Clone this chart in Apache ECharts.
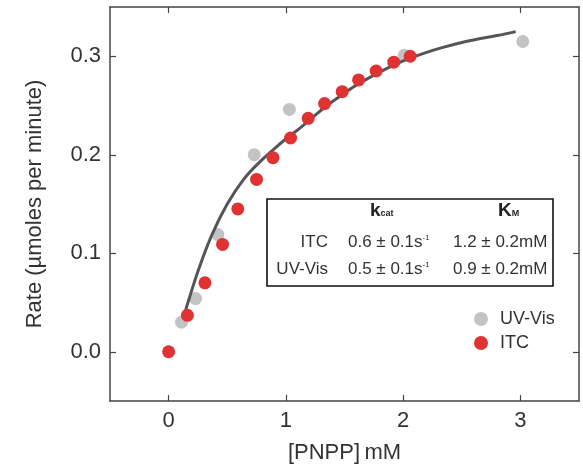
<!DOCTYPE html>
<html>
<head>
<meta charset="utf-8">
<script src="https://cdn.jsdelivr.net/npm/echarts@6/dist/echarts.min.js"></script>
<style>html,body{margin:0;padding:0;background:#fff}#c{width:583px;height:469px}</style>
</head>
<body>
<div id="c"></div>
<script>
// ---- data ----
const itcX = [0, 0.16, 0.31, 0.46, 0.59, 0.75, 0.89, 1.04, 1.19, 1.33, 1.48, 1.62, 1.77, 1.92, 2.06];
const itcY = [0, 0.037, 0.070, 0.109, 0.145, 0.175, 0.197, 0.217, 0.237, 0.252, 0.264, 0.276, 0.285, 0.294, 0.300];
const uvX = [0.11, 0.23, 0.42, 0.73, 1.03, 2.01, 3.02];
const uvY = [0.030, 0.054, 0.119, 0.200, 0.246, 0.301, 0.315];
const fitX = [0.145, 0.17, 0.26, 0.37, 0.5, 0.64, 0.78, 0.9, 1.01, 1.12, 1.2, 1.34, 1.48, 1.62, 1.77, 1.92, 2.06, 2.2, 2.34, 2.5, 2.62, 2.8, 2.96];
const fitY = [0.042, 0.052, 0.085, 0.119, 0.150, 0.175, 0.193, 0.206, 0.217, 0.227, 0.235, 0.249, 0.261, 0.272, 0.282, 0.291, 0.298, 0.304, 0.309, 0.314, 0.317, 0.321, 0.325];
const xTicks = [0, 1, 2, 3];
const yTicks = [0, 0.1, 0.2, 0.3];
const seriesNames = ['UV-Vis', 'ITC'];
const tableRows = ['ITC', 'UV-Vis'];
const kcatVals = ['0.6 ± 0.1s', '0.5 ± 0.1s'];
const kmVals = ['1.2 ± 0.2mM', '0.9 ± 0.2mM'];

const zip = (a, b) => a.map((v, i) => [v, b[i]]);
const FONT = '"Liberation Sans", Arial, Helvetica, sans-serif';
const AX = '#444';

const chart = echarts.init(document.getElementById('c'), null, {renderer: 'canvas'});

function xAx(pos, show) {
  return {
    type: 'value', position: pos, min: -0.5, max: 3.5,
    axisLine: {show: true, onZero: false, lineStyle: {color: AX, width: 1.5}},
    axisTick: {show: true, inside: true, length: 6, customValues: xTicks, lineStyle: {color: AX, width: 1.2}},
    axisLabel: {show: show, customValues: xTicks, margin: 9, color: '#333', fontSize: 22, fontFamily: FONT},
    splitLine: {show: false},
    name: show ? '[PNPP]\u2009mM' : '', nameLocation: 'middle', nameGap: 41,
    nameTextStyle: {color: '#333', fontSize: 22, fontFamily: FONT}
  };
}
function yAx(pos, show) {
  return {
    type: 'value', position: pos, min: -0.05, max: 0.35,
    axisLine: {show: true, onZero: false, lineStyle: {color: AX, width: 1.5}},
    axisTick: {show: true, inside: true, length: 6, customValues: yTicks, lineStyle: {color: AX, width: 1.2}},
    axisLabel: {show: show, customValues: yTicks, margin: 9, color: '#333', fontSize: 22, fontFamily: FONT,
      formatter: v => v.toFixed(1)},
    splitLine: {show: false},
    name: show ? 'Rate (µmoles per minute)' : '', nameLocation: 'middle', nameGap: 64,
    nameTextStyle: {color: '#333', fontSize: 22, fontFamily: FONT}
  };
}

const rowY = [242, 269];
const graphics = [
  {type: 'rect', shape: {x: 267, y: 199, width: 286, height: 87}, z: 100,
    style: {fill: '#fff', stroke: '#111', lineWidth: 1.6}},
  {type: 'text', x: 370, y: 211, z: 101, style: {
    text: '{b|k}{s|cat}', verticalAlign: 'middle',
    rich: {b: {fontSize: 19, fontWeight: 'bold', fontFamily: FONT, fill: '#222'},
           s: {fontSize: 9, fontWeight: 'bold', fontFamily: FONT, fill: '#222', padding: [6, 0, 0, 0]}}}},
  {type: 'text', x: 498, y: 211, z: 101, style: {
    text: '{b|K}{s|M}', verticalAlign: 'middle',
    rich: {b: {fontSize: 19, fontWeight: 'bold', fontFamily: FONT, fill: '#222'},
           s: {fontSize: 9, fontWeight: 'bold', fontFamily: FONT, fill: '#222', padding: [6, 0, 0, 0]}}}}
];
tableRows.forEach((r, i) => {
  graphics.push({type: 'text', x: 328, y: rowY[i], z: 101, style: {
    text: r, align: 'right', verticalAlign: 'middle', fontSize: 17, fontFamily: FONT, fill: '#333'}});
  graphics.push({type: 'text', x: 348, y: rowY[i], z: 101, style: {
    text: '{n|' + kcatVals[i] + '}{s|-1}', verticalAlign: 'middle',
    rich: {n: {fontSize: 17, fontFamily: FONT, fill: '#333'},
           s: {fontSize: 8, fontFamily: FONT, fill: '#333', padding: [0, 0, 9, 0]}}}});
  graphics.push({type: 'text', x: 453, y: rowY[i], z: 101, style: {
    text: kmVals[i], verticalAlign: 'middle', fontSize: 17, fontFamily: FONT, fill: '#333'}});
});

chart.setOption({
  animation: false,
  backgroundColor: '#fff',
  grid: {left: 110, right: 4, top: 7, bottom: 63},
  xAxis: [xAx('bottom', true), xAx('top', false)],
  yAxis: [yAx('left', true), yAx('right', false)],
  legend: {
    data: seriesNames, orient: 'vertical', left: 469, top: 305,
    icon: 'circle', itemWidth: 14, itemHeight: 14, itemGap: 6,
    textStyle: {fontSize: 18, fontFamily: FONT, color: '#333', lineHeight: 18, padding: [0, 0, 0, 7]}
  },
  graphic: graphics,
  series: [
    {name: seriesNames[0], type: 'scatter', data: zip(uvX, uvY), symbolSize: 13,
      itemStyle: {color: '#c3c3c6', opacity: 1}, z: 2},
    {name: 'fit', type: 'line', data: zip(fitX, fitY), smooth: 0.4, showSymbol: false, symbol: 'none',
      lineStyle: {color: '#555', width: 3}, z: 3},
    {name: seriesNames[1], type: 'scatter', data: zip(itcX, itcY), symbolSize: 13,
      itemStyle: {color: '#e03232', opacity: 1}, z: 4}
  ]
});
</script>
</body>
</html>
